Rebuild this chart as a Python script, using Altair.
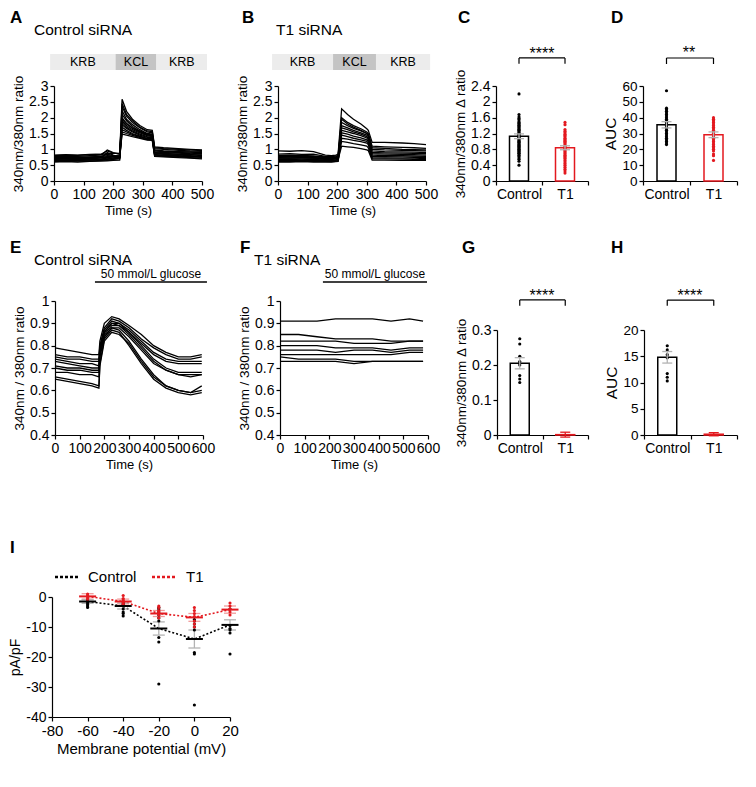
import altair as alt
import pandas as pd

W, H, M = 740, 765, 8
FONT = "Liberation Sans"
RED = "#e3191f"
GRAY = "#b3b3b3"
PINK = "#f29a9a"
GROUPS = ["Control", "T1"]

# ---------------- data ----------------
A_time = [0, 40, 80, 120, 160, 180, 200, 222, 230, 245, 265, 290, 315, 332, 340, 370, 420, 460, 500]
A_traces = [
    [0.80, 0.82, 0.81, 0.83, 0.85, 0.95, 0.88, 0.86, 2.58, 2.20, 1.95, 1.75, 1.62, 1.60, 1.08, 1.05, 1.02, 1.00, 0.98],
    [0.75, 0.74, 0.76, 0.75, 0.78, 0.80, 0.79, 0.80, 2.35, 2.05, 1.85, 1.68, 1.55, 1.52, 1.02, 1.00, 0.97, 0.95, 0.94],
    [0.70, 0.72, 0.71, 0.70, 0.73, 0.74, 0.76, 0.77, 2.22, 1.95, 1.78, 1.62, 1.50, 1.48, 0.98, 0.95, 0.93, 0.92, 0.90],
    [0.68, 0.69, 0.70, 0.71, 0.74, 0.90, 0.82, 0.75, 2.10, 1.90, 1.72, 1.58, 1.48, 1.45, 0.95, 0.93, 0.90, 0.88, 0.86],
    [0.65, 0.66, 0.65, 0.67, 0.68, 0.70, 0.72, 0.74, 2.00, 1.82, 1.66, 1.55, 1.45, 1.43, 0.92, 0.90, 0.88, 0.86, 0.85],
    [0.62, 0.62, 0.63, 0.63, 0.65, 0.66, 0.68, 0.70, 1.90, 1.75, 1.62, 1.52, 1.43, 1.40, 0.88, 0.86, 0.84, 0.83, 0.82],
    [0.78, 0.79, 0.78, 0.80, 0.82, 0.98, 0.90, 0.84, 1.85, 1.70, 1.58, 1.48, 1.40, 1.38, 0.90, 0.87, 0.85, 0.83, 0.80],
    [0.72, 0.73, 0.74, 0.73, 0.75, 0.77, 0.78, 0.80, 1.78, 1.66, 1.55, 1.45, 1.38, 1.36, 0.86, 0.84, 0.82, 0.80, 0.78],
    [0.60, 0.61, 0.60, 0.62, 0.63, 0.64, 0.65, 0.66, 1.70, 1.60, 1.50, 1.42, 1.35, 1.34, 0.84, 0.81, 0.80, 0.78, 0.76],
    [0.66, 0.67, 0.68, 0.67, 0.70, 0.72, 0.73, 0.75, 1.62, 1.55, 1.47, 1.40, 1.33, 1.32, 0.82, 0.80, 0.78, 0.77, 0.75],
    [0.64, 0.64, 0.65, 0.66, 0.67, 0.68, 0.70, 0.72, 1.55, 1.50, 1.44, 1.38, 1.31, 1.30, 0.80, 0.78, 0.76, 0.74, 0.72],
    [0.74, 0.75, 0.74, 0.76, 0.78, 0.85, 0.80, 0.78, 1.48, 1.45, 1.40, 1.35, 1.29, 1.28, 0.78, 0.76, 0.74, 0.72, 0.70],
    [0.70, 0.70, 0.71, 0.72, 0.73, 0.75, 0.76, 0.77, 2.45, 2.10, 1.90, 1.70, 1.58, 1.56, 1.05, 1.02, 1.00, 0.98, 0.96],
    [0.82, 0.83, 0.82, 0.84, 0.84, 0.86, 0.87, 0.88, 1.95, 1.80, 1.68, 1.57, 1.47, 1.46, 0.96, 0.94, 0.92, 0.91, 0.90],
]
A_proto_start = [-13, 208, 346]
A_proto_end = [208, 346, 517]
PROTO_LABELS = ["KRB", "KCL", "KRB"]

B_time = [0, 40, 80, 120, 160, 180, 195, 203, 215, 235, 255, 280, 300, 305, 318, 360, 420, 460, 500]
B_traces = [
    [0.95, 0.94, 0.96, 0.93, 0.82, 0.80, 0.82, 0.84, 2.28, 2.10, 1.95, 1.80, 1.65, 1.60, 1.22, 1.22, 1.20, 1.18, 1.15],
    [0.85, 0.86, 0.84, 0.85, 0.78, 0.77, 0.79, 0.80, 2.00, 1.85, 1.75, 1.65, 1.55, 1.50, 1.10, 1.08, 1.06, 1.05, 1.03],
    [0.80, 0.80, 0.81, 0.79, 0.76, 0.75, 0.76, 0.78, 1.85, 1.75, 1.66, 1.58, 1.50, 1.45, 1.00, 0.98, 0.97, 0.96, 0.95],
    [0.75, 0.76, 0.75, 0.74, 0.73, 0.72, 0.73, 0.75, 1.75, 1.68, 1.60, 1.52, 1.45, 1.40, 0.95, 0.93, 0.92, 0.91, 0.90],
    [0.72, 0.72, 0.73, 0.72, 0.71, 0.70, 0.71, 0.72, 1.68, 1.62, 1.55, 1.48, 1.40, 1.35, 0.90, 0.89, 0.88, 0.87, 0.86],
    [0.70, 0.70, 0.69, 0.70, 0.68, 0.68, 0.69, 0.70, 1.60, 1.55, 1.50, 1.43, 1.36, 1.30, 0.86, 0.85, 0.84, 0.83, 0.82],
    [0.65, 0.66, 0.65, 0.66, 0.64, 0.64, 0.65, 0.66, 1.52, 1.48, 1.42, 1.36, 1.30, 1.25, 0.82, 0.80, 0.80, 0.79, 0.78],
    [0.62, 0.62, 0.63, 0.62, 0.62, 0.61, 0.62, 0.63, 1.45, 1.40, 1.35, 1.30, 1.25, 1.20, 0.78, 0.77, 0.76, 0.75, 0.75],
    [0.60, 0.60, 0.61, 0.60, 0.60, 0.60, 0.61, 0.62, 1.35, 1.32, 1.28, 1.24, 1.20, 1.15, 0.74, 0.73, 0.72, 0.72, 0.71],
    [0.78, 0.78, 0.77, 0.78, 0.74, 0.74, 0.75, 0.76, 1.25, 1.22, 1.18, 1.14, 1.10, 1.05, 0.70, 0.70, 0.69, 0.68, 0.68],
    [0.68, 0.68, 0.67, 0.68, 0.66, 0.66, 0.67, 0.68, 1.10, 1.08, 1.06, 1.02, 0.98, 0.96, 0.66, 0.66, 0.65, 0.65, 0.65],
    [0.74, 0.73, 0.74, 0.73, 0.70, 0.70, 0.71, 0.72, 1.95, 1.80, 1.70, 1.60, 1.50, 1.46, 1.05, 1.03, 1.00, 0.99, 0.98],
]
B_proto_start = [-20, 186, 331]
B_proto_end = [186, 331, 514]

E_time = [0, 50, 100, 150, 178, 182, 200, 230, 260, 300, 350, 400, 450, 500, 550, 595]
E_traces = [
    [0.79, 0.78, 0.77, 0.76, 0.76, 0.82, 0.90, 0.93, 0.92, 0.89, 0.85, 0.80, 0.77, 0.75, 0.75, 0.76],
    [0.76, 0.75, 0.75, 0.74, 0.74, 0.80, 0.88, 0.92, 0.91, 0.88, 0.83, 0.79, 0.76, 0.74, 0.74, 0.75],
    [0.75, 0.74, 0.74, 0.73, 0.73, 0.79, 0.87, 0.91, 0.90, 0.87, 0.82, 0.77, 0.74, 0.73, 0.73, 0.73],
    [0.73, 0.72, 0.71, 0.70, 0.70, 0.78, 0.86, 0.90, 0.90, 0.86, 0.80, 0.74, 0.70, 0.68, 0.68, 0.68],
    [0.71, 0.70, 0.70, 0.69, 0.69, 0.77, 0.85, 0.89, 0.89, 0.85, 0.79, 0.73, 0.69, 0.67, 0.67, 0.67],
    [0.70, 0.69, 0.69, 0.68, 0.68, 0.76, 0.84, 0.88, 0.88, 0.84, 0.78, 0.72, 0.69, 0.67, 0.66, 0.67],
    [0.68, 0.68, 0.67, 0.67, 0.66, 0.75, 0.84, 0.88, 0.87, 0.82, 0.74, 0.67, 0.62, 0.60, 0.59, 0.60],
    [0.66, 0.65, 0.64, 0.63, 0.62, 0.72, 0.83, 0.87, 0.86, 0.80, 0.72, 0.65, 0.61, 0.59, 0.58, 0.59],
    [0.65, 0.64, 0.63, 0.62, 0.61, 0.71, 0.82, 0.86, 0.85, 0.81, 0.73, 0.66, 0.62, 0.60, 0.59, 0.62],
    [0.74, 0.73, 0.72, 0.72, 0.71, 0.78, 0.86, 0.90, 0.89, 0.86, 0.81, 0.76, 0.73, 0.72, 0.72, 0.72],
]
E_glucose = [162, 616]

F_time = [0, 75, 150, 225, 300, 375, 450, 525, 580]
F_traces = [
    [0.91, 0.91, 0.91, 0.92, 0.92, 0.92, 0.91, 0.92, 0.91],
    [0.85, 0.85, 0.84, 0.83, 0.83, 0.83, 0.82, 0.82, 0.82],
    [0.82, 0.82, 0.82, 0.82, 0.81, 0.81, 0.81, 0.82, 0.82],
    [0.80, 0.80, 0.80, 0.79, 0.79, 0.79, 0.78, 0.79, 0.79],
    [0.78, 0.78, 0.78, 0.77, 0.78, 0.78, 0.77, 0.78, 0.78],
    [0.76, 0.76, 0.76, 0.76, 0.76, 0.76, 0.76, 0.77, 0.77],
    [0.75, 0.74, 0.74, 0.74, 0.73, 0.73, 0.73, 0.73, 0.73],
    [0.73, 0.73, 0.73, 0.73, 0.72, 0.73, 0.73, 0.73, 0.73],
]
F_glucose = [174, 596]

C_ctrl = [2.2, 1.68, 1.62, 1.58, 1.55, 1.5, 1.47, 1.45, 1.42, 1.4, 1.38, 1.35, 1.32, 1.3, 1.28,
          1.25, 1.22, 1.2, 1.18, 1.15, 1.12, 1.1, 1.08, 1.05, 1.02, 1.0, 0.98, 0.95, 0.92, 0.9,
          0.88, 0.85, 0.82, 0.8, 0.78, 0.75, 0.72, 0.7, 0.68, 0.65, 0.62, 0.58, 0.55, 0.5, 0.4]
C_t1 = [1.48, 1.42, 1.3, 1.26, 1.22, 1.18, 1.15, 1.12, 1.08, 1.05, 1.02, 1.0, 0.97, 0.94, 0.91,
        0.88, 0.85, 0.82, 0.8, 0.77, 0.74, 0.71, 0.68, 0.65, 0.62, 0.59, 0.56, 0.52, 0.48, 0.44,
        0.4, 0.35, 0.3, 0.25, 0.2]
C_mean = [1.13, 0.84]
C_sem = [0.06, 0.05]

D_ctrl = [57, 46, 45, 44, 43, 42, 41, 40, 39, 38, 37, 36, 35.5, 35, 34, 33, 32, 31, 30, 29, 28, 27, 26, 25, 24, 23]
D_t1 = [40, 39, 38.5, 38, 37, 36, 35, 34, 33, 32, 31, 30, 29, 28, 27, 26, 25, 24, 23, 22, 21, 20, 19, 17, 16, 13]
D_mean = [35.5, 29.2]
D_sem = [2.0, 1.8]

G_ctrl = [0.275, 0.26, 0.225, 0.21, 0.205, 0.2, 0.17, 0.16, 0.15]
G_t1 = []
G_mean = [0.205, 0.001]
G_sem = [0.016, 0.007]

H_ctrl = [17.0, 16.2, 15.3, 14.7, 11.7, 11.0, 10.3]
H_t1 = []
H_mean = [14.8, 0.15]
H_sem = [1.1, 0.3]

I_volt = [-60, -40, -20, 0, 20]
I_ctrl_pts = [
    [-1.0, -1.5, -2.0, -2.5, -3.0, -3.5],
    [-1.5, -2.0, -2.5, -3.0, -4.0, -5.0, -5.5, -6.3],
    [-3.5, -4.0, -5.0, -6.0, -7.0, -8.0, -13.5, -15.0, -29.0],
    [-7.5, -8.0, -9.0, -10.0, -11.0, -18.5, -19.0, -36.0],
    [-4.0, -9.5, -10.5, -11.0, -12.0, -19.0],
]
I_t1_pts = [
    [1.0, 0.5, 0.0, -0.5, -1.0],
    [0.5, -0.5, -1.0, -1.5, -2.0, -2.5],
    [-3.0, -3.5, -4.5, -5.0, -6.0, -7.0],
    [-3.5, -4.5, -5.5, -6.5, -8.0, -9.0, -10.0],
    [-2.0, -3.0, -4.0, -5.0, -6.0],
]
I_ctrl_mean = [-1.5, -3.0, -10.5, -14.0, -9.3]
I_ctrl_sem = [0.6, 1.0, 2.2, 3.0, 1.7]
I_t1_mean = [0.2, -1.5, -5.5, -6.8, -4.2]
I_t1_sem = [0.9, 0.8, 1.0, 1.3, 1.2]

# ---------------- layout (page pixels) ----------------
LAYOUT = {
    "A": dict(x=(54, 202), y=(181, 86)),
    "B": dict(x=(278, 426), y=(181, 86)),
    "C": dict(x=(496, 588), y=(181, 86)),
    "D": dict(x=(643, 737), y=(181, 86)),
    "E": dict(x=(55, 203), y=(435, 301)),
    "F": dict(x=(280, 428), y=(435, 301)),
    "G": dict(x=(497, 588), y=(435, 330)),
    "H": dict(x=(644, 737), y=(435, 330)),
    "I": dict(x=(52, 230), y=(717, 597)),
}
ONE = pd.DataFrame({"k": [0]})


def rng(a, b):
    return [a - M, b - M]


AX = dict(domainColor="black", domainWidth=1.2, tickColor="black", tickWidth=1.2, tickSize=4,
          labelFont=FONT, labelColor="black", titleFont=FONT, titleColor="black",
          titleFontWeight="normal", grid=False, labelPadding=2, titlePadding=3,
          labelOverlap=False, labelFlush=False)


def left_axis(xpage, values, title, lsize=14, tsize=13.5):
    return alt.Axis(orient="left", offset=-(xpage - M), values=values, title=title,
                    labelFontSize=lsize, titleFontSize=tsize, labelExpr="'' + datum.value", **AX)


def bottom_axis(ypage, values, title, lsize=14, tsize=13):
    return alt.Axis(orient="bottom", offset=(ypage - M) - H, values=values, title=title,
                    labelFontSize=lsize, titleFontSize=tsize, labelExpr="'' + datum.value", **AX)


def band_axis(ypage, lsize=14):
    return alt.Axis(orient="bottom", offset=(ypage - M) - H, title=None, tickBand="extent",
                    labelAngle=0, labelFontSize=lsize, **AX)


def label(text, xp, yp, size, weight="normal", align="left", baseline="middle"):
    return alt.Chart(ONE).mark_text(text=text, font=FONT, fontSize=size, fontWeight=weight,
                                    align=align, baseline=baseline, color="black").encode(
        x=alt.value(xp - M), y=alt.value(yp - M))


def seg(x1, x2, yp, color):
    return alt.Chart(ONE).mark_rule(color=color, strokeDash=[3, 2], strokeWidth=2.5).encode(
        x=alt.value(x1 - M), x2=alt.value(x2 - M), y=alt.value(yp - M))


def traces_df(times, traces):
    rows = []
    for i, tr in enumerate(traces):
        for t, v in zip(times, tr):
            rows.append({"trace": i, "t": t, "v": v})
    return pd.DataFrame(rows)


def trace_panel(key, times, traces, xdom, xvals, ydom, yvals, ytitle):
    L = LAYOUT[key]
    xs = alt.Scale(domain=xdom, range=rng(*L["x"]), nice=False, zero=False)
    ys = alt.Scale(domain=ydom, range=rng(*L["y"]), nice=False, zero=False)
    lines = alt.Chart(traces_df(times, traces)).mark_line(color="black", strokeWidth=1.3).encode(
        x=alt.X("t:Q", scale=xs, axis=bottom_axis(L["y"][0], xvals, "Time (s)")),
        y=alt.Y("v:Q", scale=ys, axis=left_axis(L["x"][0], yvals, ytitle)),
        detail="trace:N")
    return lines, xs


def protocol(xs, starts, ends, ytop, ybot):
    df = pd.DataFrame({"start": starts, "end": ends, "label": PROTO_LABELS})
    rect = alt.Chart(df).mark_rect().encode(
        x=alt.X("start:Q", scale=xs), x2="end:Q",
        y=alt.value(ytop - M), y2=alt.value(ybot - M),
        fill=alt.condition("datum.label == 'KCL'", alt.value("#c4c4c4"), alt.value("#ececec")))
    txt = alt.Chart(df).transform_calculate(mid="(datum.start + datum.end) / 2").mark_text(
        font=FONT, fontSize=12.5, color="black", baseline="middle").encode(
        x=alt.X("mid:Q", scale=xs), y=alt.value((ytop + ybot) / 2 - M), text="label:N")
    return [rect, txt]


def glucose(xs, span, yline, ytext):
    df = pd.DataFrame({"start": [span[0]], "end": [span[1]], "label": ["50 mmol/L glucose"]})
    rule = alt.Chart(df).mark_rule(color="black", strokeWidth=1.5).encode(
        x=alt.X("start:Q", scale=xs), x2="end:Q", y=alt.value(yline - M))
    txt = alt.Chart(df).transform_calculate(mid="(datum.start + datum.end) / 2").mark_text(
        font=FONT, fontSize=12, color="black", baseline="middle").encode(
        x=alt.X("mid:Q", scale=xs), y=alt.value(ytext - M), text="label:N")
    return [rule, txt]


def bar_panel(key, ydom, yvals, ytitle, ytsize, ylsize, ctrl_pts, t1_pts, means, sems, t1_err, btop, bbot):
    L = LAYOUT[key]
    xs = alt.Scale(domain=GROUPS, range=rng(*L["x"]), paddingInner=0, paddingOuter=0)
    ys = alt.Scale(domain=ydom, range=rng(*L["y"]), nice=False, zero=False)
    is_t1 = "datum.g == 'T1'"
    bars_df = pd.DataFrame({"g": GROUPS, "mean": means, "sem": sems})
    pts_df = pd.DataFrame({"g": ["Control"] * len(ctrl_pts) + ["T1"] * len(t1_pts),
                           "v": ctrl_pts + t1_pts})
    layers = [alt.Chart(bars_df).mark_bar(width=19, fill="white", strokeWidth=1.5).encode(
        x=alt.X("g:N", scale=xs, axis=band_axis(L["y"][0])),
        y=alt.Y("mean:Q", scale=ys, axis=left_axis(L["x"][0], yvals, ytitle, lsize=ylsize, tsize=ytsize)),
        stroke=alt.condition(is_t1, alt.value(RED), alt.value("black")))]
    layers.append(alt.Chart(pts_df).mark_circle(size=10, opacity=1).encode(
        x=alt.X("g:N", scale=xs), y=alt.Y("v:Q", scale=ys),
        color=alt.condition(is_t1, alt.value(RED), alt.value("black"))))
    base = alt.Chart(bars_df).transform_calculate(lo="datum.mean - datum.sem", hi="datum.mean + datum.sem")
    errc = alt.condition(is_t1, alt.value(t1_err), alt.value(GRAY))
    layers.append(base.mark_rule(strokeWidth=1.3).encode(
        x=alt.X("g:N", scale=xs), y=alt.Y("lo:Q", scale=ys), y2="hi:Q", color=errc))
    for f in ["lo", "hi"]:
        layers.append(base.mark_tick(size=10, thickness=1.3, opacity=1).encode(
            x=alt.X("g:N", scale=xs), y=alt.Y(f + ":Q", scale=ys), color=errc))
    br = pd.DataFrame({"g": GROUPS, "top": [btop, btop], "bot": [bbot, bbot]})
    layers.append(alt.Chart(br).mark_rule(color="black", strokeWidth=1.2).encode(
        x=alt.X("g:N", scale=xs), y=alt.Y("top:Q", scale=ys), y2="bot:Q"))
    hz = pd.DataFrame({"a": ["Control"], "b": ["T1"], "top": [btop]})
    layers.append(alt.Chart(hz).mark_rule(color="black", strokeWidth=1.2).encode(
        x=alt.X("a:N", scale=xs), x2="b:N", y=alt.Y("top:Q", scale=ys)))
    return alt.layer(*layers)


# ---------------- panels ----------------
A_lines, A_xs = trace_panel("A", A_time, A_traces, [0, 500], [0, 100, 200, 300, 400, 500],
                            [0, 3], [0, 0.5, 1, 1.5, 2, 2.5, 3], "340nm/380nm ratio")
panelA = alt.layer(A_lines, *protocol(A_xs, A_proto_start, A_proto_end, 54, 70))

B_lines, B_xs = trace_panel("B", B_time, B_traces, [0, 500], [0, 100, 200, 300, 400, 500],
                            [0, 3], [0, 0.5, 1, 1.5, 2, 2.5, 3], "340nm/380nm ratio")
panelB = alt.layer(B_lines, *protocol(B_xs, B_proto_start, B_proto_end, 54, 70))

E_lines, E_xs = trace_panel("E", E_time, E_traces, [0, 600], [0, 100, 200, 300, 400, 500, 600],
                            [0.4, 1], [0.4, 0.5, 0.6, 0.7, 0.8, 0.9, 1], "340nm / 380nm ratio")
panelE = alt.layer(E_lines, *glucose(E_xs, E_glucose, 282, 273.5))

F_lines, F_xs = trace_panel("F", F_time, F_traces, [0, 600], [0, 100, 200, 300, 400, 500, 600],
                            [0.4, 1], [0.4, 0.5, 0.6, 0.7, 0.8, 0.9, 1], "340nm / 380nm ratio")
panelF = alt.layer(F_lines, *glucose(F_xs, F_glucose, 282, 273.5))

panelC = bar_panel("C", [0, 2.4], [0, 0.4, 0.8, 1.2, 1.6, 2, 2.4], "340nm/380nm Δ ratio", 13.5, 14,
                   C_ctrl, C_t1, C_mean, C_sem, GRAY, 3.11, 2.96)
panelD = bar_panel("D", [0, 60], [0, 10, 20, 30, 40, 50, 60], "AUC", 15.5, 13.5,
                   D_ctrl, D_t1, D_mean, D_sem, GRAY, 77.7, 73.9)
panelG = bar_panel("G", [0, 0.3], [0, 0.1, 0.2, 0.3], "340nm/380nm Δ ratio", 13.5, 14,
                   G_ctrl, G_t1, G_mean, G_sem, RED, 0.386, 0.369)
panelH = bar_panel("H", [0, 20], [0, 5, 10, 15, 20], "AUC", 15.5, 13.5,
                   H_ctrl, H_t1, H_mean, H_sem, RED, 25.7, 24.6)

# panel I
LI = LAYOUT["I"]
I_xs = alt.Scale(domain=[-80, 20], range=rng(*LI["x"]), nice=False, zero=False)
I_ys = alt.Scale(domain=[-40, 0], range=rng(*LI["y"]), nice=False, zero=False)
I_means = pd.DataFrame({
    "g": ["Control"] * 5 + ["T1"] * 5,
    "v": I_volt + I_volt,
    "mean": I_ctrl_mean + I_t1_mean,
    "sem": I_ctrl_sem + I_t1_sem,
})
prow = []
for grp, pts in (("Control", I_ctrl_pts), ("T1", I_t1_pts)):
    for v, lst in zip(I_volt, pts):
        for p in lst:
            prow.append({"g": grp, "v": v, "y": p})
I_pts = pd.DataFrame(prow)
is_t1 = "datum.g == 'T1'"
I_lines = alt.Chart(I_means).mark_line(strokeDash=[2, 2], strokeWidth=1.6).encode(
    x=alt.X("v:Q", scale=I_xs, axis=bottom_axis(LI["y"][0], [-80, -60, -40, -20, 0, 20],
                                                "Membrane potential (mV)", lsize=15, tsize=15)),
    y=alt.Y("mean:Q", scale=I_ys, axis=left_axis(LI["x"][0], [-40, -30, -20, -10, 0], "pA/pF",
                                                 lsize=14, tsize=14)),
    color=alt.condition(is_t1, alt.value(RED), alt.value("black")),
    detail="g:N")
I_base = alt.Chart(I_means).transform_calculate(lo="datum.mean - datum.sem", hi="datum.mean + datum.sem")
I_errc = alt.condition(is_t1, alt.value(PINK), alt.value(GRAY))
I_layers = [I_lines,
            I_base.mark_rule(strokeWidth=1.3).encode(
                x=alt.X("v:Q", scale=I_xs), y=alt.Y("lo:Q", scale=I_ys), y2="hi:Q", color=I_errc)]
for f in ["lo", "hi"]:
    I_layers.append(I_base.mark_tick(orient="horizontal", size=12, thickness=1.3, opacity=1).encode(
        x=alt.X("v:Q", scale=I_xs), y=alt.Y(f + ":Q", scale=I_ys), color=I_errc))
I_layers.append(alt.Chart(I_pts).mark_circle(size=10, opacity=1).encode(
    x=alt.X("v:Q", scale=I_xs), y=alt.Y("y:Q", scale=I_ys),
    color=alt.condition(is_t1, alt.value(RED), alt.value("black"))))
I_layers.append(I_base.mark_tick(orient="horizontal", size=17, thickness=2, opacity=1).encode(
    x=alt.X("v:Q", scale=I_xs), y=alt.Y("mean:Q", scale=I_ys),
    color=alt.condition(is_t1, alt.value(RED), alt.value("black"))))
panelI = alt.layer(*I_layers)

# ---------------- annotations ----------------
texts = [
    label("A", 10, 18, 17, "bold"), label("Control siRNA", 34, 30, 15.5),
    label("B", 242, 18, 17, "bold"), label("T1 siRNA", 276, 30, 15.5),
    label("C", 458, 18, 17, "bold"), label("D", 611, 18, 17, "bold"),
    label("E", 10, 248, 17, "bold"), label("Control siRNA", 34, 260, 15.5),
    label("F", 240, 248, 17, "bold"), label("T1 siRNA", 254, 260, 15.5),
    label("G", 462, 248, 17, "bold"), label("H", 611, 248, 17, "bold"),
    label("I", 10, 548, 17, "bold"),
    label("****", 542, 54, 16, align="center"),
    label("**", 689, 53, 16, align="center"),
    label("****", 542, 296, 16, align="center"),
    label("****", 690, 296, 16, align="center"),
    seg(55, 78, 577, "black"), label("Control", 88, 577, 15),
    seg(152, 177, 577, RED), label("T1", 186, 577, 15),
]

chart = alt.layer(panelA, panelB, panelC, panelD, panelE, panelF, panelG, panelH, panelI, *texts).resolve_scale(
    x="independent", y="independent").resolve_axis(x="independent", y="independent").properties(
    width=W, height=H, padding=0, autosize=alt.AutoSizeParams(type="none"), background="white"
).configure_view(stroke=None)

chart.save("out.html", embed_options={"renderer": "svg", "actions": False})
